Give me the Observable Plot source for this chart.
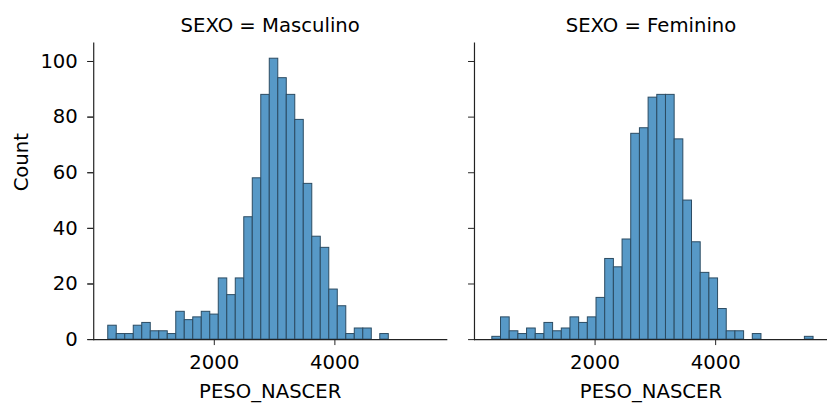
<!DOCTYPE html>
<html>
<head>
<meta charset="utf-8">
<script src="https://cdn.jsdelivr.net/npm/d3@7"></script>
<script src="https://cdn.jsdelivr.net/npm/@observablehq/plot@0.6"></script>
<style>
  html, body { margin: 0; padding: 0; background: #fff; }
  #wrap { width: 827px; height: 408px; overflow: hidden; }
</style>
</head>
<body>
<div id="wrap"></div>
<script>
// Facets
const sexos = ["Masculino", "Feminino"];
// Histogram bins (PESO_NASCER) per facet
const binStartM = 241, binWidthM = 141;
const countsM = [5,2,2,5,6,3,3,2,10,7,8,10,9,22,16,22,44,58,88,101,94,88,79,56,37,33,18,12,2,4,4,0,2];
const binStartF = 296, binWidthF = 144;
const countsF = [1,8,3,2,4,2,6,3,4,8,6,8,15,29,26,36,74,76,87,88,88,72,50,35,24,22,11,3,3,0,2,0,0,0,0,0,1];
// Axis ticks
const xTicks = [2000, 4000];
const yTicks = [0, 20, 40, 60, 80, 100];

const table = [];
countsM.forEach((c, i) => table.push({SEXO: "Masculino", x1: binStartM + i * binWidthM, x2: binStartM + (i + 1) * binWidthM, count: c}));
countsF.forEach((c, i) => table.push({SEXO: "Feminino", x1: binStartF + i * binWidthF, x2: binStartF + (i + 1) * binWidthF, count: c}));
const bars = table.filter(d => d.count > 0);

const font = "DejaVu Sans";
const fs = 19.8;

const chart = Plot.plot({
  width: 834,
  height: 408,
  marginLeft: 94,
  marginRight: 0,
  marginTop: 43,
  marginBottom: 66,
  style: {fontFamily: font, fontSize: fs + "px", color: "#000", background: "#fff"},
  fx: {domain: sexos, paddingInner: 28 / 384, paddingOuter: 0, label: null},
  x: {domain: [0, 5855]},
  y: {domain: [0, 106.6]},
  marks: [
    Plot.rectY(bars, {fx: "SEXO", x1: "x1", x2: "x2", y: "count", fill: "#5799c7", stroke: "#2b4b62", strokeWidth: 1}),
    Plot.frame({anchor: "left", stroke: "#222", strokeWidth: 1.2}),
    Plot.frame({anchor: "bottom", stroke: "#222", strokeWidth: 1.2}),
    Plot.axisX({ticks: xTicks, tickFormat: d3.format("d"), tickSize: 6, tickPadding: 10, label: null, fontSize: fs, stroke: "#222"}),
    Plot.axisY({ticks: yTicks, tickFormat: d3.format("d"), tickSize: 6, tickPadding: 10, label: null, fontSize: fs, stroke: "#222"}),
    Plot.axisY({ticks: yTicks, tickSize: 6, tickFormat: () => "", label: null, facetAnchor: null, stroke: "#222"}),
    Plot.axisFx({anchor: "top", tickSize: 0, tickPadding: 11, label: null, fontSize: fs, tickFormat: d => `SEXO = ${d}`}),
    Plot.text(sexos.map(s => ({SEXO: s})), {fx: "SEXO", frameAnchor: "bottom", dy: 53, text: () => "PESO_NASCER", fontSize: fs, lineAnchor: "middle"}),
    Plot.text([{SEXO: "Masculino"}], {fx: "SEXO", frameAnchor: "left", dx: -73, rotate: -90, text: () => "Count", fontSize: fs})
  ]
});
document.getElementById("wrap").appendChild(chart);
</script>
</body>
</html>
